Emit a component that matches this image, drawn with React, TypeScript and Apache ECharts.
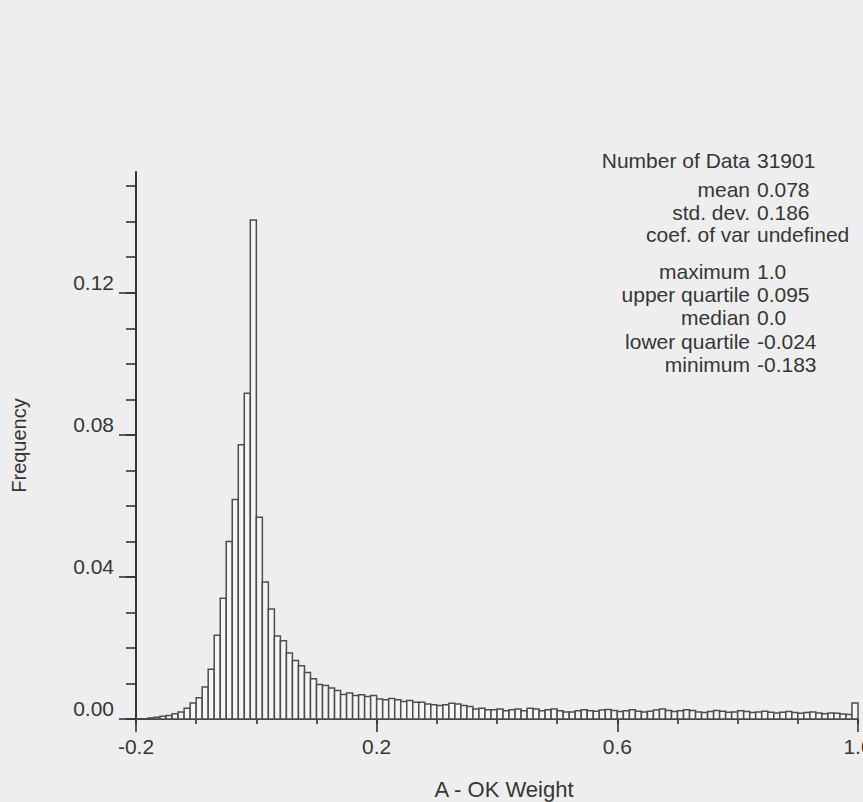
import React, { useEffect, useRef } from "react";
import * as echarts from "echarts";

// Histogram of A - OK weights, 0.01-wide classes from -0.2 to 1.0
const binStart = -0.2;
const binWidth = 0.01;
const frequencies = [
  0, 0, 0.0003, 0.0005, 0.0008, 0.001, 0.0015, 0.002, 0.003, 0.0045,
  0.006, 0.009, 0.014, 0.0236, 0.034, 0.05, 0.0618, 0.0772, 0.0917, 0.1405,
  0.0568, 0.0386, 0.031, 0.0234, 0.022, 0.0186, 0.0165, 0.015, 0.0131, 0.0113,
  0.0097, 0.0094, 0.0087, 0.008, 0.0069, 0.0073, 0.0066, 0.0068, 0.0063, 0.0066,
  0.0056, 0.0054, 0.0058, 0.0054, 0.0049, 0.0052, 0.0047, 0.0047, 0.0042, 0.004,
  0.0038, 0.004, 0.0044, 0.0042, 0.0038, 0.0035, 0.0028, 0.003, 0.0026, 0.0026,
  0.0028, 0.0023, 0.0026, 0.0028, 0.0023, 0.003, 0.0028, 0.0023, 0.0026, 0.0028,
  0.0023, 0.002, 0.002, 0.0023, 0.0026, 0.0023, 0.0022, 0.0025, 0.0027, 0.0024,
  0.0021, 0.0023, 0.0026, 0.0022, 0.002, 0.0022, 0.0025, 0.0028, 0.0024, 0.0021,
  0.0023, 0.0026, 0.0024, 0.002, 0.0018, 0.0021, 0.0024, 0.0022, 0.0019, 0.002,
  0.0023, 0.0021, 0.0018, 0.002, 0.0022, 0.0019, 0.0017, 0.0019, 0.0021, 0.0018,
  0.0016, 0.0018, 0.002, 0.0017, 0.0015, 0.0017, 0.0016, 0.0014, 0.0013, 0.0045,
];

const xMajorTicks = [-0.2, 0.2, 0.6, 1.0];
const xTickLabels = ["-0.2", "0.2", "0.6", "1.0"];
const xMinorTicks = [-0.2, -0.1, 0, 0.1, 0.2, 0.3, 0.4, 0.5, 0.6, 0.7, 0.8, 0.9, 1.0];
const yMajorTicks = [0, 0.04, 0.08, 0.12];
const yTickLabels = ["0.00", "0.04", "0.08", "0.12"];
const yMinorTicks = [0, 0.01, 0.02, 0.03, 0.04, 0.05, 0.06, 0.07, 0.08, 0.09, 0.1, 0.11, 0.12, 0.13, 0.14, 0.15];

const statLabels = [
  "Number of Data",
  "mean",
  "std. dev.",
  "coef. of var",
  "maximum",
  "upper quartile",
  "median",
  "lower quartile",
  "minimum",
];
const statValues = ["31901", "0.078", "0.186", "undefined", "1.0", "0.095", "0.0", "-0.024", "-0.183"];
const statRows = [160, 189, 212, 234, 271, 294, 317, 341, 364];

const INK = "#363636";
const FONT = "'Liberation Sans', Arial, Helvetica, sans-serif";

export default function App() {
  const ref = useRef<HTMLDivElement>(null);

  useEffect(() => {
    if (!ref.current) return;
    const chart = echarts.init(ref.current, null, { renderer: "svg" });

    const data = frequencies.map((f, i) => {
      const lo = Math.round((binStart + i * binWidth) * 1000) / 1000;
      const hi = Math.round((binStart + (i + 1) * binWidth) * 1000) / 1000;
      return [lo, hi, f];
    });

    const xLabelFor = (v: number) => {
      const idx = xMajorTicks.findIndex((t) => Math.abs(t - v) < 1e-6);
      return idx >= 0 ? xTickLabels[idx] : "";
    };
    const yLabelFor = (v: number) => {
      const idx = yMajorTicks.findIndex((t) => Math.abs(t - v) < 1e-6);
      return idx >= 0 ? yTickLabels[idx] : "";
    };

    const graphics: any[] = [];
    statLabels.forEach((lab, i) => {
      graphics.push({
        type: "text",
        x: 750,
        y: statRows[i],
        style: {
          text: lab,
          fill: INK,
          fontSize: 21,
          fontFamily: FONT,
          align: "right",
          verticalAlign: "middle",
        },
      });
      graphics.push({
        type: "text",
        x: 757,
        y: statRows[i],
        style: {
          text: statValues[i],
          fill: INK,
          fontSize: 21,
          fontFamily: FONT,
          align: "left",
          verticalAlign: "middle",
        },
      });
    });

    const axisLineStyle = { color: "#333", width: 2 };
    const tickStyle = { color: "#333", width: 1.6 };

    chart.setOption({
      animation: false,
      backgroundColor: "#eeeeee",
      grid: {
        left: 136,
        top: 172,
        width: 722,
        height: 547,
        containLabel: false,
        outerBoundsMode: "none",
      },
      xAxis: [
        {
          type: "value",
          position: "bottom",
          min: -0.2,
          max: 1.0,
          axisLine: { show: true, onZero: false, lineStyle: axisLineStyle },
          axisTick: { show: true, length: 5, customValues: xMinorTicks, lineStyle: tickStyle },
          axisLabel: { show: false },
          splitLine: { show: false },
          name: "A - OK Weight",
          nameLocation: "middle",
          nameGap: 59,
          nameTextStyle: { color: INK, fontSize: 22, fontFamily: FONT, padding: [0, 0, 0, 14] },
        },
        {
          type: "value",
          position: "bottom",
          min: -0.2,
          max: 1.0,
          axisLine: { show: false, onZero: false },
          axisTick: { show: true, length: 13, customValues: xMajorTicks, lineStyle: tickStyle },
          axisLabel: {
            show: true,
            customValues: xMajorTicks,
            formatter: (v: number) => xLabelFor(v),
            margin: 17,
            color: INK,
            fontSize: 21,
            fontFamily: FONT,
            hideOverlap: false,
          },
          splitLine: { show: false },
        },
      ],
      yAxis: [
        {
          type: "value",
          position: "left",
          min: 0,
          max: 0.154,
          axisLine: { show: true, onZero: false, lineStyle: axisLineStyle },
          axisTick: { show: true, length: 10, customValues: yMinorTicks, lineStyle: tickStyle },
          axisLabel: { show: false },
          splitLine: { show: false },
          name: "Frequency",
          nameLocation: "middle",
          nameGap: 107,
          nameRotate: 90,
          nameTextStyle: { color: INK, fontSize: 20, fontFamily: FONT },
        },
        {
          type: "value",
          position: "left",
          min: 0,
          max: 0.154,
          axisLine: { show: false, onZero: false },
          axisTick: { show: true, length: 17, customValues: yMajorTicks, lineStyle: tickStyle },
          axisLabel: {
            show: true,
            customValues: yMajorTicks,
            formatter: (v: number) => yLabelFor(v),
            margin: 22,
            color: INK,
            fontSize: 21,
            fontFamily: FONT,
            verticalAlign: "bottom",
            lineHeight: 21,
          },
          splitLine: { show: false },
        },
      ],
      series: [
        {
          type: "custom",
          xAxisIndex: 0,
          yAxisIndex: 0,
          clip: false,
          encode: { x: [0, 1], y: 2 },
          data,
          renderItem: (params: any, api: any) => {
            const lo = api.value(0);
            const hi = api.value(1);
            const v = api.value(2);
            const p0 = api.coord([lo, v]);
            const p1 = api.coord([hi, 0]);
            return {
              type: "rect",
              shape: { x: p0[0], y: p0[1], width: p1[0] - p0[0], height: p1[1] - p0[1] },
              style: { fill: "#f5f5f5", stroke: "#4d4d4d", lineWidth: 1.5 },
            };
          },
        },
      ],
      graphic: graphics,
    });

    return () => chart.dispose();
  }, []);

  return (
    <div
      ref={ref}
      style={{ position: "fixed", left: 0, top: 0, width: 863, height: 802, background: "#eeeeee" }}
    />
  );
}
